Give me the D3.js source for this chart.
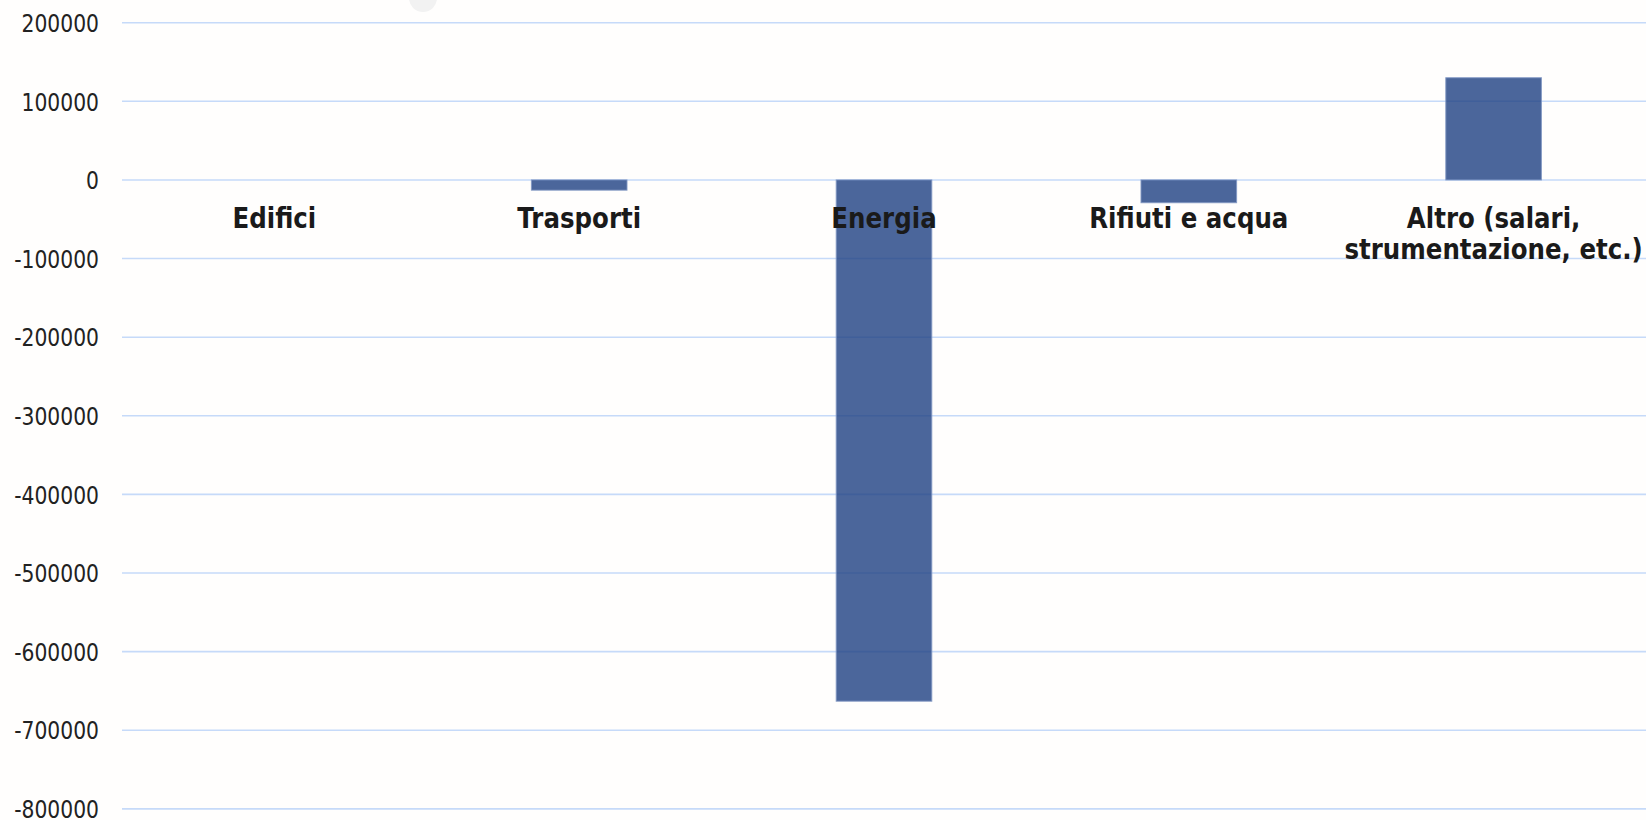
<!DOCTYPE html>
<html>
<head>
<meta charset="utf-8">
<script src="https://cdn.jsdelivr.net/npm/d3@7"></script>
<style>
  html, body { margin: 0; padding: 0; background: #fffefd; }
  svg { display: block; }
</style>
</head>
<body>
<svg id="chart" width="1646" height="820"></svg>
<script>
// Data
const categories = ["Edifici", "Trasporti", "Energia", "Rifiuti e acqua", "Altro (salari, strumentazione, etc.)"];
const categoryLines = [["Edifici"], ["Trasporti"], ["Energia"], ["Rifiuti e acqua"], ["Altro (salari,", "strumentazione, etc.)"]];
const values = [0, -13000, -663000, -29000, 130000];
const yTicks = [200000, 100000, 0, -100000, -200000, -300000, -400000, -500000, -600000, -700000, -800000];

const W = 1646, H = 820;
const svg = d3.select("#chart");

svg.append("rect").attr("width", W).attr("height", H).attr("fill", "#fffefd");

// faint decorative circle at top
svg.append("circle").attr("cx", 423).attr("cy", -2).attr("r", 14).attr("fill", "#f2f2f2");

const x = d3.scaleBand().domain(categories).range([122, 1646])
  .paddingInner(0.6863).paddingOuter(0.34315);
const y = d3.scaleLinear().domain([-800000, 200000]).range([808.9, 22.7]);

// Gridlines
svg.append("g").selectAll("line").data(yTicks).join("line")
  .attr("x1", 122).attr("x2", W)
  .attr("y1", d => y(d)).attr("y2", d => y(d))
  .attr("stroke", "#c6daf9").attr("stroke-width", 1.6);

// Y axis labels
const yAxis = d3.axisLeft(y).tickValues(yTicks).tickFormat(d => String(d)).tickSize(0).tickPadding(0);
const yg = svg.append("g").attr("transform", "translate(99,0)").call(yAxis);
yg.select(".domain").remove();
yg.selectAll(".tick text")
  .attr("x", 0).attr("y", 0).attr("dy", null)
  .attr("dominant-baseline", "central")
  .attr("text-anchor", "end")
  .attr("transform", "scale(1,1.2)")
  .style("font-family", "'DejaVu Sans', Verdana, sans-serif")
  .style("font-size", "20.3px")
  .attr("fill", "#222");

// Bars
svg.append("g").selectAll("rect").data(values).join("rect")
  .attr("x", (d, i) => x(categories[i]))
  .attr("width", x.bandwidth())
  .attr("y", d => Math.min(y(d), y(0)))
  .attr("height", d => Math.abs(y(d) - y(0)))
  .attr("fill", "rgb(30,64,130)")
  .attr("fill-opacity", 0.8)
  .attr("stroke", "rgba(130,152,195,0.9)")
  .attr("stroke-width", d => d === 0 ? 0 : 1);

// Category labels
const lab = svg.append("g");
categories.forEach((c, i) => {
  const cx = x(c) + x.bandwidth() / 2;
  categoryLines[i].forEach((line, j) => {
    const by = 228 + j * 31;
    lab.append("text")
      .attr("transform", `translate(${cx},${by}) scale(1,1.17)`)
      .attr("text-anchor", "middle")
      .style("font-family", "'DejaVu Sans', Verdana, sans-serif")
      .style("font-weight", "bold")
      .style("font-size", "24.5px")
      .attr("fill", "#1a1a1a")
      .text(line);
  });
});
</script>
</body>
</html>
